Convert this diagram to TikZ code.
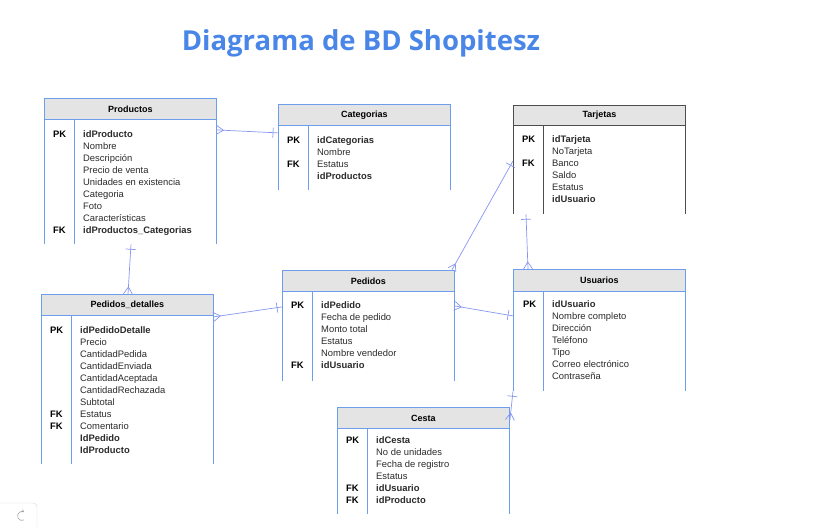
\documentclass[tikz,border=0pt]{standalone}
\usepackage{fontspec}
\setmainfont{Liberation Sans}
\newfontfamily\titlefont{Open Sans}
\usetikzlibrary{arrows.meta,calc,decorations.markings}
\definecolor{tblue}{HTML}{6D9EEB}
\definecolor{tdark}{HTML}{4D4D4D}
\definecolor{hgray}{HTML}{E4E4E4}
\definecolor{link}{HTML}{8796F0}
\definecolor{titleblue}{HTML}{4A86E8}
\definecolor{txt}{HTML}{2A2A2A}

\tikzset{
  head/.style={draw=tblue, fill=hgray, line width=0.9pt, minimum width=172pt, minimum height=21pt,
    inner sep=0pt, anchor=north west, font=\fontsize{9}{10}\selectfont\bfseries},
  body/.style={minimum width=172pt, inner sep=0pt, anchor=north west},
  frame/.style={tblue, line width=0.9pt},
  row/.style={anchor=mid west, inner sep=0pt, font=\fontsize{9.4}{10}\selectfont, text=txt},
  key/.style={row, font=\fontsize{9.4}{10}\selectfont\bfseries, text=black},
  rel/.style={link, line width=0.7pt},
  crowstart/.style={postaction={decorate, decoration={markings,
    mark=at position 7pt with {\draw[rel] (-7pt,-4.5pt) -- (0,0) -- (-7pt,4.5pt);}}}},
  crowend/.style={postaction={decorate, decoration={markings,
    mark=at position -7pt with {\draw[rel] (7pt,-4.5pt) -- (0,0) -- (7pt,4.5pt);}}}},
  barstart/.style={postaction={decorate, decoration={markings,
    mark=at position 5pt with {\draw[rel] (0,-5pt) -- (0,5pt);}}}},
  barend/.style={postaction={decorate, decoration={markings,
    mark=at position -5pt with {\draw[rel] (0,-5pt) -- (0,5pt);}}}}
}

\begin{document}
\begin{tikzpicture}[x=1pt, y=-1pt]
  \useasboundingbox (0,0) rectangle (819,527);

  \node[font=\titlefont\bfseries\fontsize{27.5}{32}\selectfont, text=titleblue] (title) at (361,43) {Diagrama de BD Shopitesz};

  % Productos
  \node[head] (prod) at (44,98) {Productos};
  \node[body, minimum height=124pt] (prodb) at (prod.south west) {};
  \draw[frame] (prodb.north west) -- (prodb.south west) (prodb.north east) -- (prodb.south east)
    ([xshift=30]prodb.north west) -- ([xshift=30]prodb.south west);
  \foreach \k/\i in {PK/0, FK/8}
    \node[key] at ([xshift=9, yshift={-15-12*\i}]prodb.north west) {\k};
  \foreach \f [count=\i from 0] in {\textbf{idProducto}, Nombre, Descripción, Precio de venta,
      Unidades en existencia, Categoria, Foto, Características, \textbf{idProductos\_Categorias}}
    \node[row] at ([xshift=39, yshift={-15-12*\i}]prodb.north west) {\f};

  % Categorias
  \node[head] (cat) at (278,104) {Categorias};
  \node[body, minimum height=64pt] (catb) at (cat.south west) {};
  \draw[frame] (catb.north west) -- (catb.south west) (catb.north east) -- (catb.south east)
    ([xshift=30]catb.north west) -- ([xshift=30]catb.south west);
  \foreach \k/\i in {PK/0, FK/2}
    \node[key] at ([xshift=9, yshift={-15-12*\i}]catb.north west) {\k};
  \foreach \f [count=\i from 0] in {\textbf{idCategorias}, Nombre, Estatus, \textbf{idProductos}}
    \node[row] at ([xshift=39, yshift={-15-12*\i}]catb.north west) {\f};

  % Tarjetas
  \node[head, draw=tdark, minimum height=20pt] (tarj) at (513,105) {Tarjetas};
  \node[body, minimum height=88pt] (tarjb) at (tarj.south west) {};
  \draw[frame, tdark] (tarjb.north west) -- (tarjb.south west) (tarjb.north east) -- (tarjb.south east)
    ([xshift=30]tarjb.north west) -- ([xshift=30]tarjb.south west);
  \foreach \k/\i in {PK/0, FK/2}
    \node[key] at ([xshift=9, yshift={-14-12*\i}]tarjb.north west) {\k};
  \foreach \f [count=\i from 0] in {\textbf{idTarjeta}, NoTarjeta, Banco, Saldo, Estatus, \textbf{idUsuario}}
    \node[row] at ([xshift=39, yshift={-14-12*\i}]tarjb.north west) {\f};

  % Pedidos_detalles
  \node[head] (det) at (41,294) {Pedidos\_detalles};
  \node[body, minimum height=148pt] (detb) at (det.south west) {};
  \draw[frame] (detb.north west) -- (detb.south west) (detb.north east) -- (detb.south east)
    ([xshift=30]detb.north west) -- ([xshift=30]detb.south west);
  \foreach \k/\i in {PK/0, FK/7, FK/8}
    \node[key] at ([xshift=9, yshift={-15-12*\i}]detb.north west) {\k};
  \foreach \f [count=\i from 0] in {\textbf{idPedidoDetalle}, Precio, CantidadPedida, CantidadEnviada,
      CantidadAceptada, CantidadRechazada, Subtotal, Estatus, Comentario, \textbf{IdPedido}, \textbf{IdProducto}}
    \node[row] at ([xshift=39, yshift={-15-12*\i}]detb.north west) {\f};

  % Pedidos
  \node[head] (ped) at (282,270) {Pedidos};
  \node[body, minimum height=89pt] (pedb) at (ped.south west) {};
  \draw[frame] (pedb.north west) -- (pedb.south west) (pedb.north east) -- (pedb.south east)
    ([xshift=30]pedb.north west) -- ([xshift=30]pedb.south west);
  \foreach \k/\i in {PK/0, FK/5}
    \node[key] at ([xshift=9, yshift={-14-12*\i}]pedb.north west) {\k};
  \foreach \f [count=\i from 0] in {\textbf{idPedido}, Fecha de pedido, Monto total, Estatus,
      Nombre vendedor, \textbf{idUsuario}}
    \node[row] at ([xshift=39, yshift={-14-12*\i}]pedb.north west) {\f};

  % Usuarios
  \node[head, minimum height=22pt] (usu) at (513,269) {Usuarios};
  \node[body, minimum height=99pt] (usub) at (usu.south west) {};
  \draw[frame] (usub.north west) -- (usub.south west) (usub.north east) -- (usub.south east)
    ([xshift=30]usub.north west) -- ([xshift=30]usub.south west);
  \node[key] at ([xshift=10, yshift=-13]usub.north west) {PK};
  \foreach \f [count=\i from 0] in {\textbf{idUsuario}, Nombre completo, Dirección, Teléfono, Tipo,
      Correo electrónico, Contraseña}
    \node[row] at ([xshift=39, yshift={-13-12*\i}]usub.north west) {\f};

  % Cesta
  \node[head] (cesta) at (337,407) {Cesta};
  \node[body, minimum height=85pt] (cestab) at (cesta.south west) {};
  \draw[frame] (cestab.north west) -- (cestab.south west) (cestab.north east) -- (cestab.south east)
    ([xshift=30]cestab.north west) -- ([xshift=30]cestab.south west);
  \foreach \k/\i in {PK/0, FK/4, FK/5}
    \node[key] at ([xshift=9, yshift={-12-12*\i}]cestab.north west) {\k};
  \foreach \f [count=\i from 0] in {\textbf{idCesta}, No de unidades, Fecha de registro, Estatus,
      \textbf{idUsuario}, \textbf{idProducto}}
    \node[row] at ([xshift=39, yshift={-12-12*\i}]cestab.north west) {\f};

  % relaciones
  \draw[rel, crowstart, barend] ([yshift=-10]prodb.north east) -- ([yshift=-7]catb.north west);
  \draw[rel, barstart, crowend] ([xshift=87]prodb.south west) -- ([xshift=87]det.north west);
  \draw[rel, crowstart, barend] ([yshift=-1]detb.north east) -- ([yshift=-15]pedb.north west);
  \draw[rel, crowstart, barend] ([xshift=-3]ped.north east) -- ([yshift=-35]tarjb.north west);
  \draw[rel, barstart, crowend] ([xshift=13]tarjb.south west) -- ([xshift=15]usu.north west);
  \draw[rel, crowstart, barend] ([yshift=-14]pedb.north east) -- ([yshift=-24]usub.north west);
  \draw[rel, barstart, crowend] (usub.south west) -- ([yshift=-13]cesta.north east);

  % boton
  \draw[gray!30, rounded corners=4pt] (-5,503) -- (37,503) -- (37,532);
  \draw[gray!70, line width=0.6pt, -{Stealth[length=3pt,width=3.5pt]}] ([shift={(22,516)}]60:4.5)
    arc[start angle=60, end angle=300, radius=4.5];
\end{tikzpicture}
\end{document}
